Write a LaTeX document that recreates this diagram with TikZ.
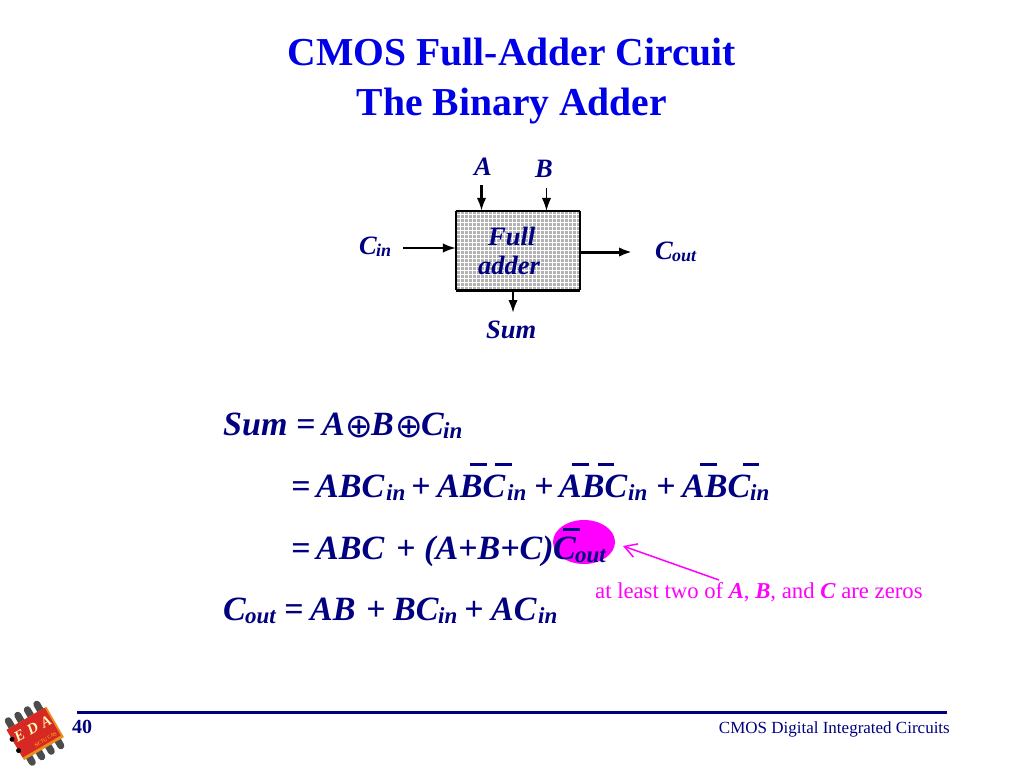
\documentclass[tikz,border=0pt]{standalone}
\usepackage{fontspec}
\setmainfont{Liberation Serif}
\newfontfamily\symfont{DejaVu Sans}
\usetikzlibrary{arrows.meta,calc,shapes.geometric}
\definecolor{navyink}{RGB}{0,0,128}
\definecolor{titleblue}{RGB}{0,0,230}
\definecolor{pinkink}{RGB}{255,0,255}
\definecolor{chipred}{RGB}{215,40,35}
\definecolor{chiporange}{RGB}{235,140,30}
\newcommand{\fs}[1]{\fontsize{#1}{#1}\selectfont}
\tikzset{x=1pt,y=-1pt,
 titletext/.style={font=\fs{39.6}\bfseries,text=titleblue,inner sep=0pt,anchor=base},
 eq/.style={font=\fs{34}\bfseries\itshape,text=navyink,inner sep=0pt,anchor=base west},
 sub/.style={font=\fs{23}\bfseries\itshape,text=navyink,inner sep=0pt,anchor=base west},
 lab/.style={font=\fs{26.5}\bfseries\itshape,text=navyink,inner sep=0pt,anchor=base west},
 labsub/.style={font=\fs{18}\bfseries\itshape,text=navyink,inner sep=0pt,anchor=base west},
 conn/.style={draw=black,-{Latex[length=13pt,width=9.5pt]}},
 ovbar/.style={draw=navyink,line width=3pt},
 leg/.style={draw=gray!60!black,line width=7pt,line cap=round},
 chiptext/.style={text=yellow!30!white,inner sep=0pt,rotate=30},
}
\begin{document}
\begin{tikzpicture}
\useasboundingbox (0,0) rectangle (1024,768);
\fill[white] (0,0) rectangle (1024,768);
% title
\node[titletext] (t1) at (512,66) {CMOS Full-Adder Circuit};
\node[titletext] (t2) at (512,115) {The Binary Adder};
% box
\node[minimum width=124pt,minimum height=79pt,inner sep=0pt,fill=gray!60] (box) at (518,250.5) {};
\foreach \xx in {460,464,...,578} \draw[white,line width=.7pt] (\xx,211) -- (\xx,290);
\foreach \yy in {214,218,...,288} \draw[white,line width=.7pt] (456,\yy) -- (580,\yy);
\draw[black,line width=1.6pt] (box.north west) -- (box.north east);
\draw[black,line width=2.2pt] (box.north west) -- (box.south west);
\draw[black,line width=2.2pt] (box.north east) -- (box.south east);
\draw[black,line width=3.4pt] (box.south west) -- (box.south east);
\node[lab] (full) at (488,245) {Full};
\node[lab] (addr) at (478,274) {adder};
% labels
\node[lab] (la) at (474,175) {A};
\node[lab] (lb) at (535,177) {B};
\node[lab] (lc) at (359,254) {C};
\node[labsub] (lci) at (376,256) {in};
\node[lab] (lco) at (655,259) {C};
\node[labsub] (lcoo) at (672,261) {out};
\node[lab] (ls) at (486,338) {Sum};
% connectors
\coordinate (ca) at (481.5,185);
\coordinate (cb) at (546.5,188);
\coordinate (cc) at (403,248);
\coordinate (cd) at (632,252);
\coordinate (ce) at (513,313);
\draw[conn,line width=2.2pt] (ca) -- (ca |- box.north);
\draw[conn,line width=1.2pt] (cb) -- (cb |- box.north);
\draw[conn,line width=1.8pt] (cc) -- (cc -| box.west);
\draw[conn,line width=3pt] (cd -| box.east) -- (cd);
\draw[conn,line width=2.4pt] (ce |- box.south) -- (ce);
% highlight
\node[ellipse,fill=pinkink,minimum width=62pt,minimum height=44pt,inner sep=0pt] (hl) at (584,542) {};
% equation 1
\node[eq] (e1) at (223,435) {Sum};
\node[eq] at (296,435) {=};
\node[eq] at (322,435) {A};
\node[eq,font=\fs{33}\symfont] at (345,437) {⊕};
\node[eq] at (371,435) {B};
\node[eq,font=\fs{33}\symfont] at (395,437) {⊕};
\node[eq] at (421,435) {C};
\node[sub] at (443,438) {in};
% equation 2
\node[eq] at (291,497) {=};
\node[eq] at (316,497) {ABC};
\node[sub] at (386,500) {in};
\node[eq] at (411,497) {+};
\node[eq] at (437,497) {ABC};
\node[sub] at (507,500) {in};
\node[eq] at (534,497) {+};
\node[eq] at (559,497) {ABC};
\node[sub] at (628,500) {in};
\node[eq] at (656,497) {+};
\node[eq] at (682,497) {ABC};
\node[sub] at (750,500) {in};
\foreach \xa/\xb in {470/487,495/512,572/589,598/614,700/717,743/759}
  \draw[ovbar] (\xa,464) -- (\xb,464);
% equation 3
\node[eq] at (291,559) {=};
\node[eq] at (316,559) {ABC};
\node[eq] at (396,559) {+};
\node[eq] at (424,559) {(A+B+C)};
\node[eq] (cbar) at (553,559) {C};
\node[sub] at (575,562) {out};
\draw[ovbar] (563,529) -- (580,529);
% equation 4
\node[eq] at (223,620) {C};
\node[sub] at (245,623) {out};
\node[eq] at (284,620) {=};
\node[eq] at (310,620) {AB};
\node[eq] at (366,620) {+};
\node[eq] at (393,620) {BC};
\node[sub] at (438,623) {in};
\node[eq] at (464,620) {+};
\node[eq] at (491,620) {AC};
\node[sub] at (538,623) {in};
% annotation
\node[font=\fs{22.7},text=pinkink,inner sep=0pt,anchor=base west] (note) at (595,598) {at least two of \textbf{\textit{A}}, \textbf{\textit{B}}, and \textbf{\textit{C}} are zeros};
\coordinate (ntip) at (719,580);
\coordinate (nhead) at (623,546);
\draw[pinkink,line width=1.5pt,-{Straight Barb[length=12pt,width=14pt]}] (ntip) -- (nhead);
% footer
\coordinate (fl) at (77,712);
\coordinate (fr) at (947,712);
\draw[navyink,line width=3pt] (fl) -- (fr);
\node[font=\fs{20}\bfseries,text=navyink,inner sep=0pt,anchor=base west] (pg) at (72,733) {40};
\node[font=\fs{17},text=navyink,inner sep=0pt,anchor=base east] (ft) at (950,733) {CMOS Digital Integrated Circuits};
% logo
\begin{scope}[shift={(35,733)},rotate=30]
 \foreach \xx in {-17,-6,5,16} {
  \draw[leg] (\xx,-24) -- (\xx,-14);
  \draw[leg] (\xx,14) -- (\xx,24);
 }
 \fill[chiporange] (-23,-17) rectangle (23,18);
 \fill[chipred] (-23,-17) rectangle (21,15);
 \fill[black] (-23,-6) circle (2.5pt) (-23,7) circle (2.5pt);
 \node[chiptext,font=\fs{15}\bfseries\itshape] at (-15,-5) {E};
 \node[chiptext,font=\fs{15}\bfseries\itshape] at (0,-5) {D};
 \node[chiptext,font=\fs{15}\bfseries\itshape] at (15,-4) {A};
 \node[chiptext,font=\fs{5},text=yellow!80!orange] at (6,11) {NCTU CAS};
\end{scope}
\end{tikzpicture}
\end{document}
